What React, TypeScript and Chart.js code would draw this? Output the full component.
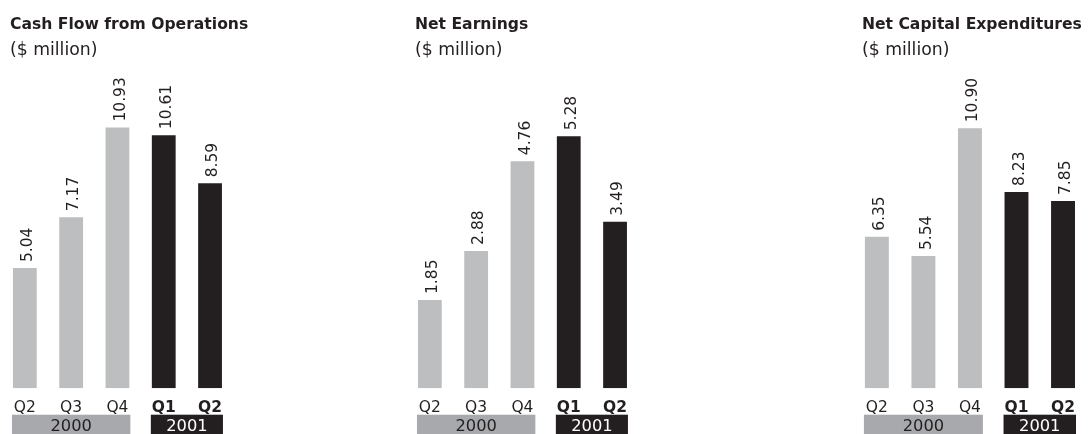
import React, { useEffect, useRef } from "react";
import { Chart, registerables } from "chart.js";

Chart.register(...registerables);

// ---- data ----
const quarters = ["Q2", "Q3", "Q4", "Q1", "Q2"];
const quarterYears = ["2000", "2000", "2000", "2001", "2001"];
const yearLabels = ["2000", "2001"];
const cashFlowFromOperations = [5.04, 7.17, 10.93, 10.61, 8.59];
const netEarnings = [1.85, 2.88, 4.76, 5.28, 3.49];
const netCapitalExpenditures = [6.35, 5.54, 10.9, 8.23, 7.85];
const panelTitles = ["Cash Flow from Operations", "Net Earnings", "Net Capital Expenditures"];
const unitLabel = "($ million)";
const axisMax = [12, 6, 12];

// ---- styles ----
const FONT = "'DejaVu Sans', sans-serif";
const TEXT = "#231f20";
const LIGHT_BAR = "#bcbec0";
const DARK_BAR = "#231f20";
const YEAR_BOX = ["#a7a9ac", "#231f20"];
const YEAR_TEXT = ["#231f20", "#ffffff"];

const CANVAS_H = 434;

type Panel = {
  title: string;
  values: number[];
  max: number;
  x: number;
  w: number;
  padL: number;
  padR: number;
};

const panels: Panel[] = [
  { title: panelTitles[0], values: cashFlowFromOperations, max: axisMax[0], x: 0, w: 300, padL: 1.7, padR: 66.8 },
  { title: panelTitles[1], values: netEarnings, max: axisMax[1], x: 400, w: 300, padL: 6.7, padR: 61.8 },
  { title: panelTitles[2], values: netCapitalExpenditures, max: axisMax[2], x: 848, w: 240, padL: 5.6, padR: 1.7 },
];

const annotatePlugin = {
  id: "annotate",
  afterDatasetsDraw(chart: any) {
    const ctx: CanvasRenderingContext2D = chart.ctx;
    const area = chart.chartArea;
    const meta = chart.getDatasetMeta(0);
    const values: number[] = chart.data.datasets[0].data;
    const title: string = chart.options.plugins.annotate.title;
    const bars = meta.data.map((b: any) => b.getProps(["x", "y", "width"], true));
    const firstLeft = bars[0].x - bars[0].width / 2;

    ctx.save();
    ctx.fillStyle = TEXT;
    // titles
    ctx.textAlign = "left";
    ctx.textBaseline = "alphabetic";
    ctx.font = `bold 15.6px ${FONT}`;
    ctx.fillText(title, firstLeft - 3, 29.3);
    ctx.font = `17.3px ${FONT}`;
    ctx.fillText(unitLabel, firstLeft - 3, 54.5);

    // value labels (rotated)
    ctx.font = `15.5px ${FONT}`;
    bars.forEach((b: any, i: number) => {
      ctx.save();
      ctx.translate(b.x + 7.3, b.y - 6);
      ctx.rotate(-Math.PI / 2);
      ctx.textAlign = "left";
      ctx.textBaseline = "alphabetic";
      ctx.fillText(values[i].toFixed(2), 0, 0);
      ctx.restore();
    });

    // quarter labels
    ctx.textAlign = "center";
    bars.forEach((b: any, i: number) => {
      const bold = quarterYears[i] === yearLabels[1];
      ctx.font = `${bold ? "bold " : ""}15.5px ${FONT}`;
      ctx.fillText(quarters[i], b.x, area.bottom + 23.4);
    });

    // year boxes
    yearLabels.forEach((yr, k) => {
      const idx = quarterYears.map((q, i) => (q === yr ? i : -1)).filter((i) => i >= 0);
      const a = bars[idx[0]];
      const z = bars[idx[idx.length - 1]];
      const left = a.x - a.width / 2 - 1;
      const right = z.x + z.width / 2 + 1;
      const top = area.bottom + 26.4;
      ctx.fillStyle = YEAR_BOX[k];
      ctx.fillRect(left, top, right - left, CANVAS_H - top);
      ctx.fillStyle = YEAR_TEXT[k];
      ctx.font = `16.3px ${FONT}`;
      ctx.textAlign = "center";
      ctx.fillText(yr, (left + right) / 2, top + 16.6);
    });
    ctx.restore();
  },
};

function PanelChart({ panel }: { panel: Panel }) {
  const ref = useRef<HTMLCanvasElement | null>(null);
  useEffect(() => {
    if (!ref.current) return;
    const chart = new Chart(ref.current, {
      type: "bar",
      data: {
        labels: quarters.map((q, i) => `${q} ${quarterYears[i]}`),
        datasets: [
          {
            data: panel.values,
            backgroundColor: quarterYears.map((y) => (y === yearLabels[0] ? LIGHT_BAR : DARK_BAR)),
            borderWidth: 0,
            barPercentage: 0.514,
            categoryPercentage: 1,
          },
        ],
      },
      options: {
        responsive: false,
        animation: false,
        devicePixelRatio: 1,
        layout: { padding: { top: 102, bottom: 45.7, left: panel.padL, right: panel.padR } },
        scales: {
          x: { display: false },
          y: { display: false, min: 0, max: panel.max },
        },
        plugins: {
          legend: { display: false },
          tooltip: { enabled: false },
          annotate: { title: panel.title },
        } as any,
      },
      plugins: [annotatePlugin],
    });
    return () => chart.destroy();
  }, [panel]);
  return (
    <canvas
      ref={ref}
      width={panel.w}
      height={CANVAS_H}
      style={{ position: "absolute", left: panel.x, top: 0, width: panel.w, height: CANVAS_H }}
    />
  );
}

export default function App() {
  return (
    <div style={{ position: "absolute", left: 0, top: 0, width: 1088, height: CANVAS_H, background: "#ffffff", overflow: "hidden" }}>
      {panels.map((p, i) => (
        <PanelChart key={i} panel={p} />
      ))}
    </div>
  );
}
